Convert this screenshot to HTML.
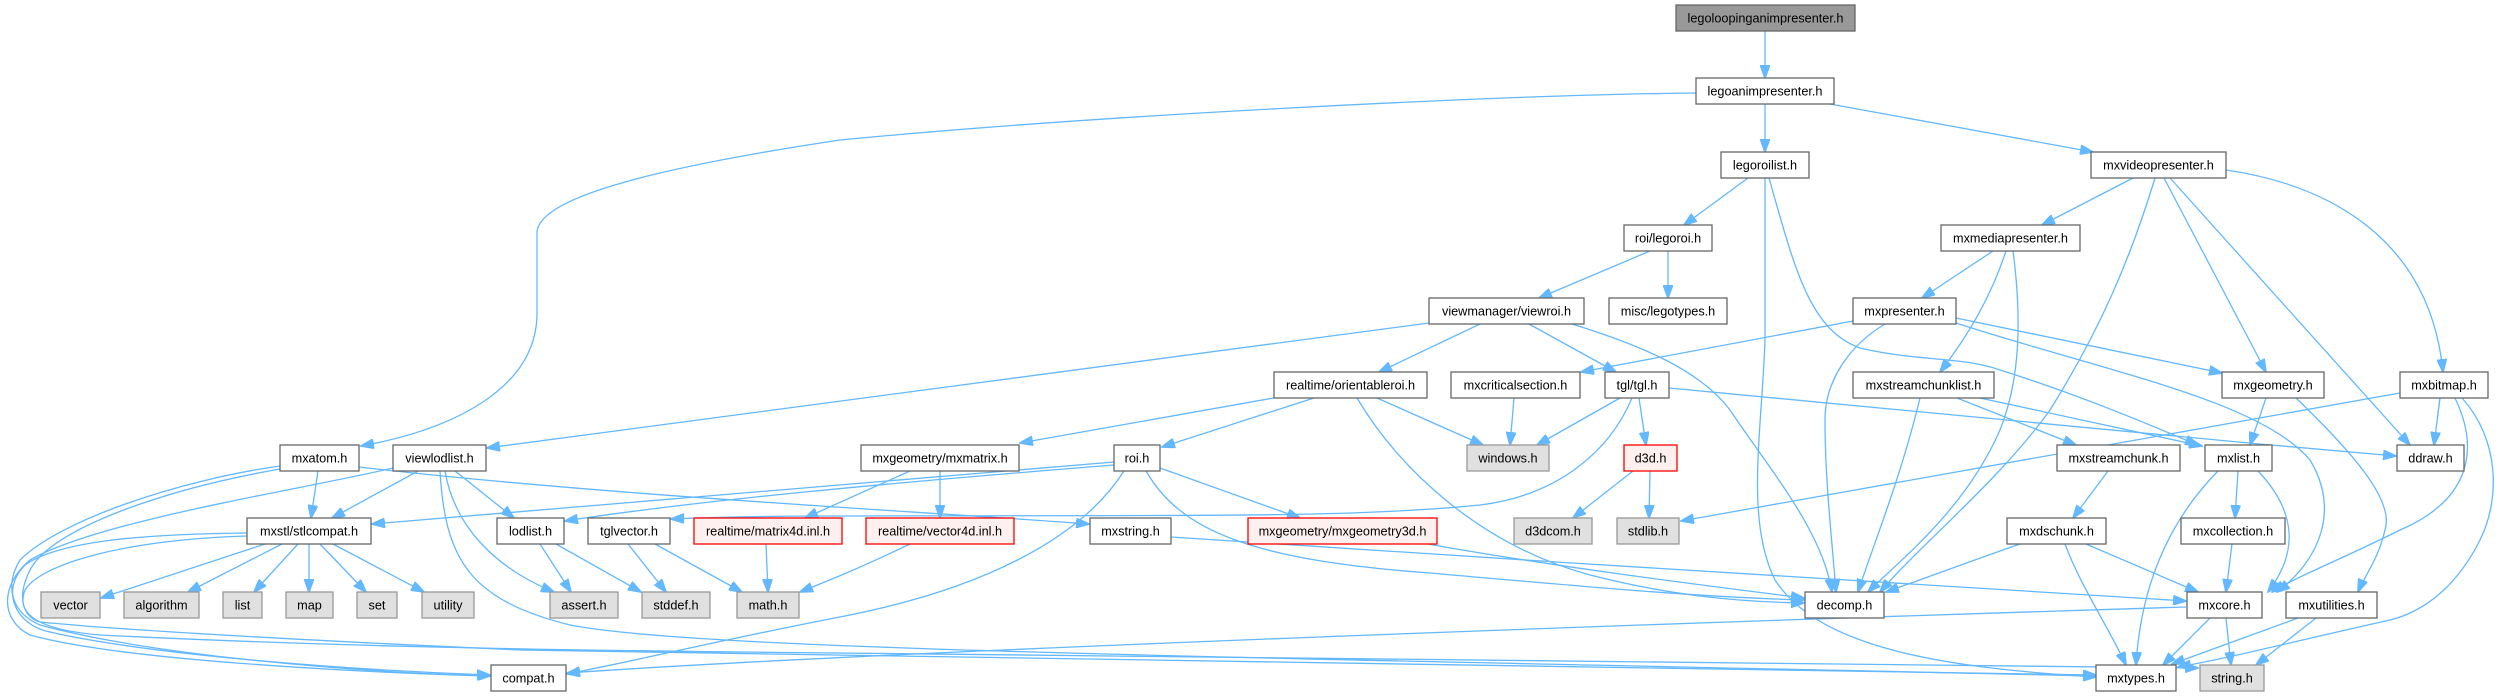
<!DOCTYPE html>
<html><head><meta charset="utf-8"><style>
html,body{margin:0;padding:0;background:#fff;}
svg{display:block;}
text{font-family:"Liberation Sans",Arial,sans-serif;font-size:12.7px;fill:#000;text-anchor:middle;}
.e{fill:none;stroke:#63b8ff;stroke-width:1.3;marker-end:url(#a);}
.n{fill:#fff;stroke:#666;stroke-width:1.3;}
.g{fill:#e0e0e0;stroke:#999;stroke-width:1.3;}
.r{fill:#fff0f0;stroke:#ff0000;stroke-width:1.3;}
.root{fill:#999;stroke:#666;stroke-width:1.3;}
</style></head><body>
<svg width="2504" height="696" viewBox="0 0 2504 696" xmlns="http://www.w3.org/2000/svg">
<defs><marker id="a" markerWidth="14" markerHeight="10" refX="13" refY="5" orient="auto" markerUnits="userSpaceOnUse"><path d="M0,0 L14,5 L0,10 z" fill="#63b8ff" stroke="#63b8ff" stroke-width="1"/></marker></defs>
<g>
<path class="e" d="M1765,31 L1765,78"/>
<path class="e" d="M1765,104 L1765,152"/>
<path class="e" d="M1830,104 L2093,152"/>
<path class="e" d="M1696,93 C1500,95 1100,115 840,140 C640,170 537,200 537,233 L537,313 C537,390 450,430 361,446"/>
<path class="e" d="M1748,178 L1684,225"/>
<path class="e" d="M1769,178 C1795,270 1810,330 1860,348 C1920,362 1960,356 2000,370 C2080,395 2150,425 2198,445"/>
<path class="e" d="M1765,178 L1765,340 C1762,430 1745,520 1775,580 C1820,650 1950,668 2096,677"/>
<path class="e" d="M1650,251 L1539,298"/>
<path class="e" d="M1668,251 L1668,298"/>
<path class="e" d="M1429,323 L487,448"/>
<path class="e" d="M1480,324 L1379,372"/>
<path class="e" d="M1529,324 L1616,372"/>
<path class="e" d="M1572,324 C1640,345 1700,370 1730,410 C1770,470 1822,530 1832,592"/>
<path class="e" d="M2133,178 L2042,225"/>
<path class="e" d="M2155,178 C2130,260 2100,330 2050,410 C2000,480 1920,545 1880,592"/>
<path class="e" d="M2164,178 L2266,372"/>
<path class="e" d="M2170,178 L2410,445"/>
<path class="e" d="M2226,170 C2330,185 2430,240 2443,372"/>
<path class="e" d="M1993,251 L1922,298"/>
<path class="e" d="M2006,251 C1990,300 1965,340 1940,372"/>
<path class="e" d="M2013,251 C2022,320 2020,380 2000,430 C1965,510 1900,560 1868,592"/>
<path class="e" d="M1853,321 L1581,372"/>
<path class="e" d="M1885,324 C1850,345 1825,380 1825,420 C1825,480 1832,540 1836,592"/>
<path class="e" d="M1956,318 L2222,373"/>
<path class="e" d="M1956,323 C2100,370 2260,400 2310,460 C2340,510 2320,560 2277,592"/>
<path class="e" d="M1620,398 L1537,445"/>
<path class="e" d="M1639,398 L1646,445"/>
<path class="e" d="M1632,398 C1610,450 1560,495 1480,505 C1350,518 1200,515 840,516 C780,516 720,517 671,519"/>
<path class="e" d="M1669,388 C1900,410 2150,435 2396,456"/>
<path class="e" d="M1514,398 L1510,445"/>
<path class="e" d="M1279,397 L1020,443"/>
<path class="e" d="M1314,398 L1162,447"/>
<path class="e" d="M1377,398 L1483,445"/>
<path class="e" d="M1357,398 C1400,470 1480,545 1590,575 C1680,598 1750,602 1804,603"/>
<path class="e" d="M910,471 L805,518"/>
<path class="e" d="M940,471 L940,518"/>
<path class="e" d="M1114,462 C900,480 600,505 372,524"/>
<path class="e" d="M1114,465 C900,482 700,500 565,521"/>
<path class="e" d="M1160,468 L1300,518"/>
<path class="e" d="M1146,471 C1180,530 1250,560 1430,573 C1600,588 1700,597 1804,600"/>
<path class="e" d="M1124,471 C1080,540 980,590 840,617 C720,640 640,660 567,674"/>
<path class="e" d="M1633,471 L1573,518"/>
<path class="e" d="M1650,471 L1649,518"/>
<path class="e" d="M1171,537 C1500,560 1900,582 2186,601"/>
<path class="e" d="M1428,544 C1550,566 1700,585 1804,598"/>
<path class="e" d="M910,544 C860,568 830,580 800,592"/>
<path class="e" d="M766,544 L768,592"/>
<path class="e" d="M628,544 L666,592"/>
<path class="e" d="M655,544 L742,592"/>
<path class="e" d="M540,544 L571,592"/>
<path class="e" d="M556,544 L641,592"/>
<path class="e" d="M265,544 L101,598"/>
<path class="e" d="M282,544 L188,592"/>
<path class="e" d="M298,544 L254,592"/>
<path class="e" d="M309,544 L309,592"/>
<path class="e" d="M320,544 L366,592"/>
<path class="e" d="M333,544 L424,592"/>
<path class="e" d="M418,471 L332,518"/>
<path class="e" d="M455,471 L514,518"/>
<path class="e" d="M445,471 C455,530 500,570 554,592"/>
<path class="e" d="M440,471 C445,560 470,600 570,625 C700,650 1200,656 2096,676"/>
<path class="e" d="M393,468 C300,490 100,520 30,560 C0,585 0,620 30,635 C120,660 350,672 490,676"/>
<path class="e" d="M280,466 C180,480 60,520 20,560 C5,585 10,612 40,625 C150,655 350,672 490,676"/>
<path class="e" d="M318,471 L311,518"/>
<path class="e" d="M359,467 C600,495 900,510 1089,524"/>
<path class="e" d="M247,533 C150,534 60,540 25,565 C0,590 15,625 50,632 C150,655 350,670 490,675"/>
<path class="e" d="M247,536 C120,540 40,565 25,590 C15,615 40,630 100,635 C300,645 500,650 840,653 C1400,660 1900,662 2198,668"/>
<path class="e" d="M280,469 C160,490 50,530 30,570 C15,600 25,618 40,622 C120,630 300,640 520,650 C900,660 1500,666 2096,675"/>
<path class="e" d="M2020,544 C1960,565 1920,580 1886,592"/>
<path class="e" d="M2086,544 L2198,592"/>
<path class="e" d="M2065,544 C2080,585 2110,630 2126,665"/>
<path class="e" d="M2108,471 L2073,518"/>
<path class="e" d="M1957,398 L2076,445"/>
<path class="e" d="M1980,398 L2202,446"/>
<path class="e" d="M1920,398 C1900,480 1875,540 1858,592"/>
<path class="e" d="M2238,471 L2235,518"/>
<path class="e" d="M2258,471 C2295,510 2300,550 2268,592"/>
<path class="e" d="M2218,471 C2160,530 2140,600 2136,665"/>
<path class="e" d="M2232,544 L2226,592"/>
<path class="e" d="M2210,618 L2163,665"/>
<path class="e" d="M2226,618 L2231,665"/>
<path class="e" d="M2186,607 C1700,622 900,650 567,673"/>
<path class="e" d="M2298,618 L2172,664"/>
<path class="e" d="M2316,618 L2256,665"/>
<path class="e" d="M2266,398 L2250,445"/>
<path class="e" d="M2296,398 C2350,450 2395,500 2385,530 C2378,560 2365,575 2358,592"/>
<path class="e" d="M2440,398 L2434,445"/>
<path class="e" d="M2455,398 C2480,450 2470,500 2400,530 C2340,560 2300,575 2272,592"/>
<path class="e" d="M2462,398 C2500,440 2500,500 2480,540 C2460,580 2430,610 2390,620 C2300,640 2230,658 2178,667"/>
<path class="e" d="M2400,393 L1681,521"/>
</g>
<g>
<rect class="root" x="1676" y="5" width="179" height="26"/><text x="1765.5" y="22.5">legoloopinganimpresenter.h</text>
<rect class="n" x="1696" y="78" width="138" height="26"/><text x="1765" y="95.5">legoanimpresenter.h</text>
<rect class="n" x="1721" y="152" width="88" height="26"/><text x="1765" y="169.5">legoroilist.h</text>
<rect class="n" x="2091" y="152" width="135" height="26"/><text x="2158.5" y="169.5">mxvideopresenter.h</text>
<rect class="n" x="1624" y="225" width="88" height="26"/><text x="1668" y="242.5">roi/legoroi.h</text>
<rect class="n" x="1941" y="225" width="139" height="26"/><text x="2010.5" y="242.5">mxmediapresenter.h</text>
<rect class="n" x="1429" y="298" width="155" height="26"/><text x="1506.5" y="315.5">viewmanager/viewroi.h</text>
<rect class="n" x="1609" y="298" width="118" height="26"/><text x="1668" y="315.5">misc/legotypes.h</text>
<rect class="n" x="1853" y="298" width="103" height="26"/><text x="1904.5" y="315.5">mxpresenter.h</text>
<rect class="n" x="1274" y="372" width="153" height="26"/><text x="1350.5" y="389.5">realtime/orientableroi.h</text>
<rect class="n" x="1451" y="372" width="129" height="26"/><text x="1515.5" y="389.5">mxcriticalsection.h</text>
<rect class="n" x="1605" y="372" width="64" height="26"/><text x="1637" y="389.5">tgl/tgl.h</text>
<rect class="n" x="1853" y="372" width="141" height="26"/><text x="1923.5" y="389.5">mxstreamchunklist.h</text>
<rect class="n" x="2222" y="372" width="102" height="26"/><text x="2273" y="389.5">mxgeometry.h</text>
<rect class="n" x="2400" y="372" width="88" height="26"/><text x="2444" y="389.5">mxbitmap.h</text>
<rect class="n" x="280" y="445" width="79" height="26"/><text x="319.5" y="462.5">mxatom.h</text>
<rect class="n" x="393" y="445" width="93" height="26"/><text x="439.5" y="462.5">viewlodlist.h</text>
<rect class="n" x="861" y="445" width="158" height="26"/><text x="940" y="462.5">mxgeometry/mxmatrix.h</text>
<rect class="n" x="1114" y="445" width="46" height="26"/><text x="1137" y="462.5">roi.h</text>
<rect class="g" x="1467" y="445" width="82" height="26"/><text x="1508" y="462.5">windows.h</text>
<rect class="r" x="1624" y="445" width="53" height="26"/><text x="1650.5" y="462.5">d3d.h</text>
<rect class="n" x="2057" y="445" width="123" height="26"/><text x="2118.5" y="462.5">mxstreamchunk.h</text>
<rect class="n" x="2205" y="445" width="67" height="26"/><text x="2238.5" y="462.5">mxlist.h</text>
<rect class="n" x="2397" y="445" width="67" height="26"/><text x="2430.5" y="462.5">ddraw.h</text>
<rect class="n" x="247" y="518" width="124" height="26"/><text x="309" y="535.5">mxstl/stlcompat.h</text>
<rect class="n" x="497" y="518" width="67" height="26"/><text x="530.5" y="535.5">lodlist.h</text>
<rect class="n" x="588" y="518" width="82" height="26"/><text x="629" y="535.5">tglvector.h</text>
<rect class="r" x="694" y="518" width="148" height="26"/><text x="768" y="535.5">realtime/matrix4d.inl.h</text>
<rect class="r" x="866" y="518" width="148" height="26"/><text x="940" y="535.5">realtime/vector4d.inl.h</text>
<rect class="n" x="1090" y="518" width="81" height="26"/><text x="1130.5" y="535.5">mxstring.h</text>
<rect class="r" x="1248" y="518" width="189" height="26"/><text x="1342.5" y="535.5">mxgeometry/mxgeometry3d.h</text>
<rect class="g" x="1514" y="518" width="78" height="26"/><text x="1553" y="535.5">d3dcom.h</text>
<rect class="g" x="1617" y="518" width="62" height="26"/><text x="1648" y="535.5">stdlib.h</text>
<rect class="n" x="2007" y="518" width="99" height="26"/><text x="2056.5" y="535.5">mxdschunk.h</text>
<rect class="n" x="2181" y="518" width="104" height="26"/><text x="2233" y="535.5">mxcollection.h</text>
<rect class="g" x="41" y="592" width="59" height="26"/><text x="70.5" y="609.5">vector</text>
<rect class="g" x="124" y="592" width="75" height="26"/><text x="161.5" y="609.5">algorithm</text>
<rect class="g" x="223" y="592" width="39" height="26"/><text x="242.5" y="609.5">list</text>
<rect class="g" x="286" y="592" width="47" height="26"/><text x="309.5" y="609.5">map</text>
<rect class="g" x="357" y="592" width="40" height="26"/><text x="377" y="609.5">set</text>
<rect class="g" x="422" y="592" width="52" height="26"/><text x="448" y="609.5">utility</text>
<rect class="g" x="550" y="592" width="68" height="26"/><text x="584" y="609.5">assert.h</text>
<rect class="g" x="642" y="592" width="68" height="26"/><text x="676" y="609.5">stddef.h</text>
<rect class="g" x="737" y="592" width="62" height="26"/><text x="768" y="609.5">math.h</text>
<rect class="n" x="1805" y="592" width="79" height="26"/><text x="1844.5" y="609.5">decomp.h</text>
<rect class="n" x="2187" y="592" width="75" height="26"/><text x="2224.5" y="609.5">mxcore.h</text>
<rect class="n" x="2286" y="592" width="91" height="26"/><text x="2331.5" y="609.5">mxutilities.h</text>
<rect class="n" x="491" y="665" width="75" height="26"/><text x="528.5" y="682.5">compat.h</text>
<rect class="n" x="2096" y="665" width="80" height="26"/><text x="2136" y="682.5">mxtypes.h</text>
<rect class="g" x="2200" y="665" width="64" height="26"/><text x="2232" y="682.5">string.h</text>
</g>
</svg>
</body></html>
